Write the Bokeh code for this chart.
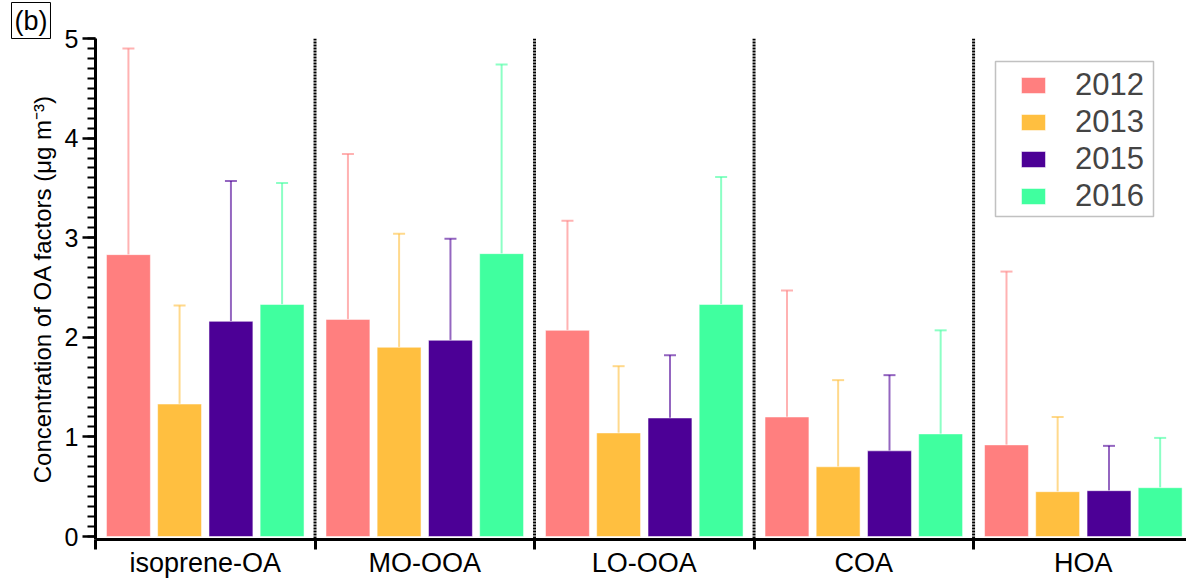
from bokeh.plotting import figure
from bokeh.models import (ColumnDataSource, FixedTicker, Whisker, TeeHead, Span,
                          Title, Legend, LegendItem, Range1d, BoxAnnotation)
from bokeh.embed import file_html
from bokeh.resources import INLINE

categories = ["isoprene-OA", "MO-OOA", "LO-OOA", "COA", "HOA"]
years = ["2012", "2013", "2015", "2016"]
colors = ["#FF7F7F", "#FFBF40", "#4C0096", "#40FF9F"]

mean_2012 = [2.83, 2.18, 2.07, 1.20, 0.92]
mean_2013 = [1.33, 1.90, 1.04, 0.70, 0.45]
mean_2015 = [2.16, 1.97, 1.19, 0.86, 0.46]
mean_2016 = [2.33, 2.84, 2.33, 1.03, 0.49]

upper_2012 = [4.90, 3.84, 3.17, 2.47, 2.66]
upper_2013 = [2.32, 3.04, 1.71, 1.57, 1.20]
upper_2015 = [3.57, 2.99, 1.82, 1.62, 0.91]
upper_2016 = [3.55, 4.74, 3.61, 2.07, 0.99]

means = [mean_2012, mean_2013, mean_2015, mean_2016]
uppers = [upper_2012, upper_2013, upper_2015, upper_2016]
offsets = [-0.35, -0.117, 0.117, 0.35]
bar_width = 0.2

FONT = "Liberation Sans"

p = figure(width=1186, height=580, output_backend="svg", toolbar_location=None,
           x_range=Range1d(0, 4.97), y_range=Range1d(-0.03, 5),
           min_border_left=95, min_border_right=0, min_border_top=38,
           min_border_bottom=0)
p.outline_line_color = None
p.xgrid.visible = False
p.ygrid.visible = False

# separators between categories
for k in range(1, len(categories)):
    p.add_layout(Span(location=k, dimension="height", line_color="black",
                      line_dash="2 1", line_width=3, line_alpha=1.0))

legend_items = []
for j, yr in enumerate(years):
    xs = [i + 0.5 + offsets[j] for i in range(len(categories))]
    src = ColumnDataSource(dict(x=xs, top=means[j], upper=uppers[j]))
    w = Whisker(source=src, base="x", lower="top", upper="upper",
                line_color=colors[j], line_alpha=0.6, line_width=2,
                lower_head=None,
                upper_head=TeeHead(size=12, line_color=colors[j],
                                   line_alpha=0.6, line_width=2))
    p.add_layout(w)
    r = p.vbar(x="x", top="top", width=bar_width, bottom=0, source=src,
               fill_color=colors[j], line_color="white", line_alpha=0.5,
               line_width=1)
    legend_items.append(LegendItem(label=yr, renderers=[r]))

# legend frame
p.add_layout(BoxAnnotation(left=900, right=1058, bottom=323, top=478,
                           left_units="screen", right_units="screen",
                           top_units="screen", bottom_units="screen",
                           fill_color="white", fill_alpha=1.0,
                           line_color="#333333", line_width=1.5))

legend = Legend(items=legend_items, location=(923, 325), margin=0,
                padding=0, spacing=1, glyph_width=30, glyph_height=20,
                label_standoff=27, label_text_font_size="31px",
                label_text_font=FONT, border_line_color=None,
                background_fill_alpha=0.0)
p.add_layout(legend, "center")

# x axis
xa = p.xaxis[0]
xa.ticker = FixedTicker(ticks=[i + 0.5 for i in range(len(categories))],
                        minor_ticks=list(range(len(categories) + 1)))
xa.major_label_overrides = {i + 0.5: c for i, c in enumerate(categories)}
xa.major_tick_out = 0
xa.major_tick_in = 0
xa.minor_tick_out = 10
xa.minor_tick_in = 0
xa.minor_tick_line_width = 3
xa.axis_line_width = 3
xa.major_label_standoff = -2
xa.major_label_text_font_size = "27px"
xa.major_label_text_font = FONT
xa.major_label_text_color = "black"

# y axis
ya = p.yaxis[0]
ya.ticker = FixedTicker(ticks=[0, 1, 2, 3, 4, 5],
                        minor_ticks=[k / 10 for k in range(51)])
ya.major_tick_out = 13
ya.major_tick_in = 0
ya.minor_tick_out = 8
ya.minor_tick_in = 0
ya.major_tick_line_width = 2.5
ya.minor_tick_line_width = 2
ya.axis_line_width = 3
ya.major_label_standoff = 4
ya.major_label_text_font_size = "25px"
ya.major_label_text_font = FONT
ya.major_label_text_color = "black"
ya.axis_label = "Concentration of OA factors (μg m⁻³)"
ya.axis_label_text_font_size = "24px"
ya.axis_label_text_font = FONT
ya.axis_label_text_font_style = "normal"
ya.axis_label_standoff = 6
ya.axis_label_text_color = "black"

p.add_layout(Title(text="(b)", align="left", offset=-84, text_font=FONT,
                   text_font_size="27px", text_font_style="normal",
                   text_color="black",
                   border_line_color="black", border_line_width=1,
                   background_fill_color="white", padding=3,
                   standoff=0), "above")

open("out.html", "w").write(file_html(p, INLINE))
